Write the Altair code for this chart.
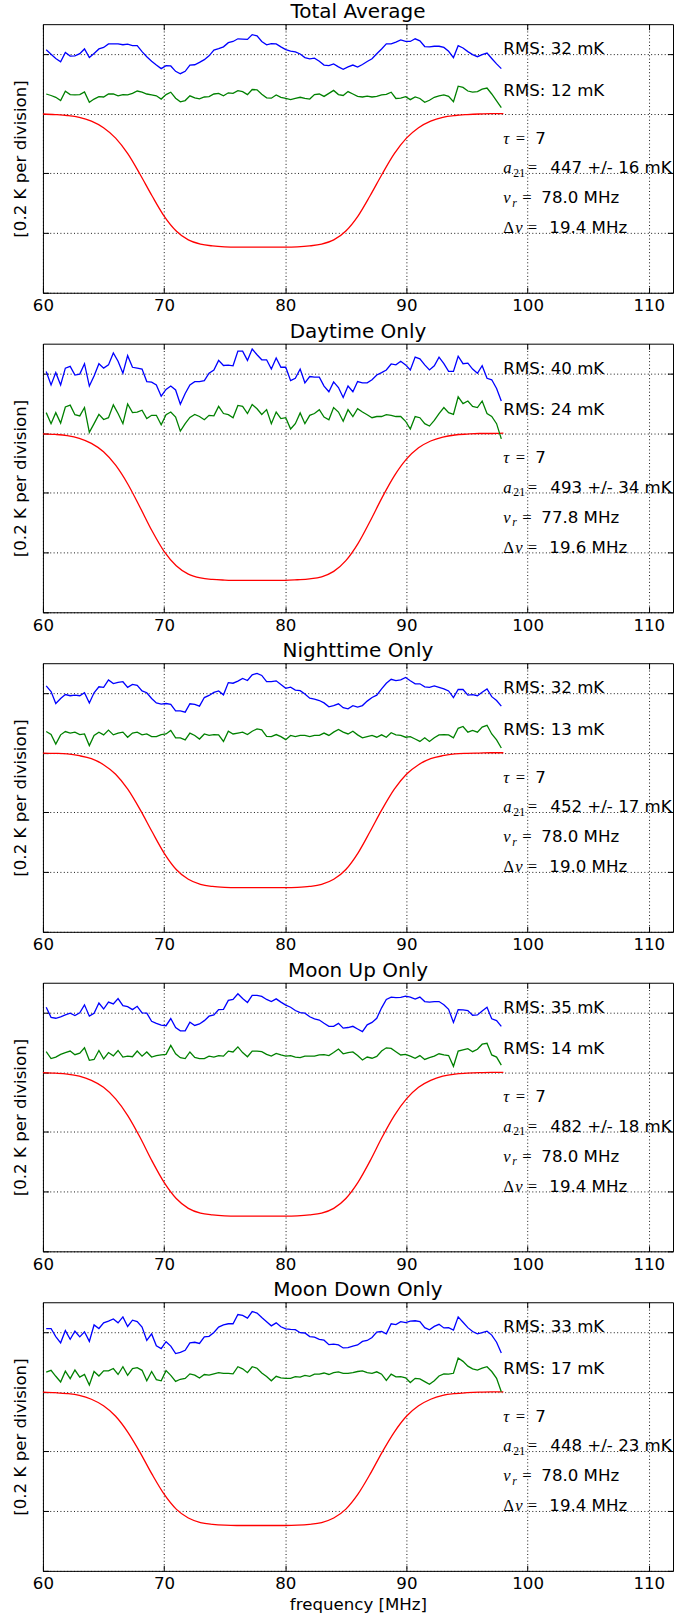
import altair as alt
import pandas as pd

# ---------------- data ----------------
freq = [60.27, 60.67, 61.06, 61.46, 61.85, 62.25, 62.64, 63.04, 63.43, 63.83,
        64.22, 64.62, 65.01, 65.41, 65.81, 66.20, 66.60, 66.99, 67.39, 67.78,
        68.18, 68.57, 68.97, 69.36, 69.76, 70.16, 70.55, 70.95, 71.34, 71.74,
        72.13, 72.53, 72.92, 73.32, 73.71, 74.11, 74.50, 74.90, 75.30, 75.69,
        76.09, 76.48, 76.88, 77.27, 77.67, 78.06, 78.46, 78.85, 79.25, 79.64,
        80.04, 80.44, 80.83, 81.23, 81.62, 82.02, 82.41, 82.81, 83.20, 83.60,
        83.99, 84.39, 84.78, 85.18, 85.58, 85.97, 86.37, 86.76, 87.16, 87.55,
        87.95, 88.34, 88.74, 89.13, 89.53, 89.93, 90.32, 90.72, 91.11, 91.51,
        91.90, 92.30, 92.69, 93.09, 93.48, 93.88, 94.27, 94.67, 95.07, 95.46,
        95.86, 96.25, 96.65, 97.04, 97.44, 97.83]

model_freq = [60, 61, 62, 63, 64, 65, 66, 67, 68, 69, 70, 71, 72, 73, 74, 75, 76, 77, 78, 79,
              80, 81, 82, 83, 84, 85, 86, 87, 88, 89, 90, 91, 92, 93, 94, 95, 96, 97, 98]

titles = ["Total Average", "Daytime Only", "Nighttime Only", "Moon Up Only", "Moon Down Only"]

blue_total = [0.214, 0.199, 0.185, 0.174, 0.205, 0.193, 0.194, 0.201, 0.217, 0.188,
              0.202, 0.217, 0.222, 0.234, 0.234, 0.234, 0.231, 0.233, 0.228, 0.228,
              0.208, 0.191, 0.176, 0.163, 0.151, 0.161, 0.160, 0.142, 0.134, 0.142,
              0.163, 0.164, 0.172, 0.181, 0.194, 0.213, 0.218, 0.224, 0.238, 0.242,
              0.251, 0.250, 0.249, 0.265, 0.261, 0.242, 0.231, 0.235, 0.234, 0.224,
              0.215, 0.210, 0.207, 0.200, 0.188, 0.184, 0.186, 0.176, 0.163, 0.161,
              0.167, 0.157, 0.149, 0.157, 0.163, 0.156, 0.165, 0.175, 0.184, 0.201,
              0.217, 0.234, 0.234, 0.240, 0.247, 0.242, 0.242, 0.251, 0.244, 0.225,
              0.224, 0.226, 0.226, 0.222, 0.209, 0.188, 0.228, 0.220, 0.208, 0.198,
              0.191, 0.198, 0.203, 0.185, 0.167, 0.151]
green_total = [0.066, 0.061, 0.055, 0.044, 0.075, 0.064, 0.063, 0.064, 0.073, 0.038,
               0.049, 0.057, 0.056, 0.066, 0.066, 0.060, 0.064, 0.063, 0.068, 0.076,
               0.072, 0.066, 0.063, 0.060, 0.049, 0.064, 0.072, 0.052, 0.040, 0.044,
               0.060, 0.053, 0.050, 0.056, 0.057, 0.066, 0.068, 0.060, 0.070, 0.068,
               0.077, 0.074, 0.064, 0.081, 0.080, 0.065, 0.053, 0.052, 0.063, 0.055,
               0.051, 0.047, 0.051, 0.055, 0.051, 0.049, 0.064, 0.066, 0.058, 0.068,
               0.078, 0.064, 0.061, 0.074, 0.066, 0.058, 0.056, 0.059, 0.056, 0.058,
               0.063, 0.065, 0.072, 0.051, 0.052, 0.057, 0.047, 0.056, 0.051, 0.038,
               0.045, 0.055, 0.060, 0.063, 0.058, 0.040, 0.092, 0.088, 0.076, 0.072,
               0.074, 0.082, 0.086, 0.066, 0.043, 0.020]
blue_day = [0.207, 0.162, 0.203, 0.162, 0.218, 0.224, 0.195, 0.198, 0.233, 0.158,
            0.192, 0.233, 0.218, 0.229, 0.269, 0.241, 0.201, 0.260, 0.221, 0.218,
            0.215, 0.173, 0.171, 0.162, 0.124, 0.147, 0.158, 0.145, 0.097, 0.133,
            0.162, 0.173, 0.173, 0.176, 0.201, 0.212, 0.244, 0.227, 0.228, 0.226,
            0.275, 0.275, 0.244, 0.282, 0.263, 0.246, 0.246, 0.215, 0.252, 0.221,
            0.221, 0.176, 0.184, 0.215, 0.169, 0.190, 0.188, 0.188, 0.158, 0.139,
            0.172, 0.153, 0.120, 0.158, 0.139, 0.173, 0.169, 0.169, 0.179, 0.195,
            0.203, 0.212, 0.232, 0.229, 0.241, 0.229, 0.212, 0.255, 0.249, 0.229,
            0.212, 0.226, 0.255, 0.233, 0.207, 0.207, 0.258, 0.233, 0.235, 0.215,
            0.201, 0.226, 0.184, 0.179, 0.150, 0.108]
green_day = [0.069, 0.032, 0.069, 0.034, 0.088, 0.094, 0.062, 0.058, 0.086, 0.003,
             0.032, 0.063, 0.046, 0.052, 0.095, 0.066, 0.032, 0.098, 0.069, 0.071,
             0.077, 0.049, 0.060, 0.060, 0.028, 0.062, 0.071, 0.054, 0.007, 0.032,
             0.053, 0.063, 0.056, 0.045, 0.060, 0.058, 0.090, 0.066, 0.062, 0.052,
             0.093, 0.090, 0.066, 0.096, 0.082, 0.063, 0.079, 0.032, 0.071, 0.049,
             0.052, 0.014, 0.032, 0.068, 0.032, 0.060, 0.066, 0.079, 0.054, 0.045,
             0.086, 0.071, 0.040, 0.079, 0.056, 0.082, 0.071, 0.062, 0.052, 0.056,
             0.056, 0.062, 0.060, 0.056, 0.056, 0.040, 0.014, 0.056, 0.052, 0.032,
             0.024, 0.043, 0.066, 0.086, 0.069, 0.063, 0.122, 0.099, 0.108, 0.090,
             0.086, 0.108, 0.066, 0.056, 0.032, -0.019]
blue_night = [0.224, 0.205, 0.165, 0.182, 0.195, 0.191, 0.193, 0.191, 0.201, 0.167,
              0.201, 0.221, 0.219, 0.244, 0.232, 0.236, 0.238, 0.219, 0.229, 0.226,
              0.207, 0.201, 0.182, 0.167, 0.163, 0.165, 0.162, 0.140, 0.140, 0.136,
              0.164, 0.162, 0.156, 0.185, 0.192, 0.202, 0.207, 0.194, 0.235, 0.233,
              0.240, 0.249, 0.242, 0.261, 0.266, 0.259, 0.238, 0.238, 0.241, 0.229,
              0.216, 0.220, 0.210, 0.208, 0.197, 0.183, 0.180, 0.175, 0.167, 0.154,
              0.158, 0.164, 0.151, 0.147, 0.158, 0.153, 0.158, 0.173, 0.185, 0.193,
              0.214, 0.233, 0.246, 0.242, 0.244, 0.252, 0.241, 0.231, 0.231, 0.221,
              0.219, 0.224, 0.219, 0.214, 0.207, 0.185, 0.212, 0.212, 0.193, 0.195,
              0.191, 0.203, 0.214, 0.188, 0.175, 0.156]
green_night = [0.071, 0.061, 0.029, 0.060, 0.071, 0.066, 0.069, 0.061, 0.063, 0.024,
               0.058, 0.069, 0.060, 0.076, 0.060, 0.066, 0.069, 0.052, 0.066, 0.069,
               0.060, 0.063, 0.054, 0.054, 0.061, 0.063, 0.075, 0.050, 0.050, 0.043,
               0.066, 0.058, 0.046, 0.063, 0.058, 0.061, 0.060, 0.038, 0.072, 0.063,
               0.066, 0.069, 0.061, 0.072, 0.080, 0.077, 0.055, 0.054, 0.061, 0.054,
               0.044, 0.058, 0.054, 0.058, 0.058, 0.054, 0.058, 0.058, 0.066, 0.058,
               0.069, 0.078, 0.069, 0.063, 0.072, 0.060, 0.050, 0.054, 0.058, 0.052,
               0.060, 0.052, 0.067, 0.060, 0.058, 0.052, 0.054, 0.046, 0.038, 0.050,
               0.038, 0.050, 0.060, 0.061, 0.060, 0.050, 0.082, 0.088, 0.069, 0.075,
               0.069, 0.086, 0.092, 0.063, 0.043, 0.016]
blue_moonup = [0.218, 0.184, 0.181, 0.186, 0.192, 0.198, 0.190, 0.199, 0.226, 0.188,
               0.198, 0.232, 0.212, 0.235, 0.229, 0.247, 0.223, 0.220, 0.210, 0.221,
               0.199, 0.198, 0.171, 0.164, 0.158, 0.156, 0.180, 0.150, 0.139, 0.139,
               0.168, 0.157, 0.162, 0.173, 0.188, 0.192, 0.210, 0.211, 0.241, 0.244,
               0.263, 0.247, 0.234, 0.258, 0.258, 0.254, 0.244, 0.237, 0.246, 0.235,
               0.225, 0.218, 0.207, 0.200, 0.198, 0.186, 0.179, 0.175, 0.164, 0.154,
               0.154, 0.164, 0.148, 0.150, 0.154, 0.145, 0.136, 0.159, 0.167, 0.181,
               0.216, 0.244, 0.252, 0.250, 0.251, 0.255, 0.252, 0.245, 0.252, 0.237,
               0.235, 0.237, 0.237, 0.226, 0.211, 0.167, 0.210, 0.209, 0.207, 0.191,
               0.192, 0.205, 0.218, 0.179, 0.173, 0.154]
green_moonup = [0.069, 0.046, 0.051, 0.060, 0.066, 0.071, 0.059, 0.064, 0.082, 0.040,
                0.043, 0.073, 0.045, 0.066, 0.055, 0.073, 0.051, 0.054, 0.052, 0.071,
                0.054, 0.068, 0.051, 0.056, 0.058, 0.060, 0.090, 0.062, 0.049, 0.046,
                0.068, 0.050, 0.046, 0.046, 0.054, 0.051, 0.056, 0.054, 0.071, 0.068,
                0.085, 0.066, 0.052, 0.071, 0.071, 0.069, 0.060, 0.054, 0.063, 0.058,
                0.054, 0.056, 0.051, 0.049, 0.054, 0.054, 0.054, 0.058, 0.059, 0.056,
                0.066, 0.078, 0.062, 0.066, 0.068, 0.056, 0.041, 0.051, 0.047, 0.053,
                0.071, 0.082, 0.080, 0.069, 0.058, 0.060, 0.054, 0.047, 0.056, 0.043,
                0.049, 0.054, 0.062, 0.058, 0.056, 0.020, 0.071, 0.075, 0.079, 0.069,
                0.077, 0.094, 0.097, 0.058, 0.051, 0.024]
blue_moondown = [0.212, 0.212, 0.185, 0.164, 0.205, 0.176, 0.203, 0.184, 0.201, 0.169,
                 0.224, 0.212, 0.231, 0.237, 0.244, 0.231, 0.251, 0.219, 0.240, 0.235,
                 0.217, 0.172, 0.194, 0.154, 0.145, 0.168, 0.153, 0.128, 0.132, 0.139,
                 0.164, 0.166, 0.162, 0.184, 0.186, 0.199, 0.217, 0.224, 0.228, 0.228,
                 0.259, 0.256, 0.247, 0.269, 0.264, 0.249, 0.235, 0.221, 0.231, 0.218,
                 0.211, 0.209, 0.208, 0.198, 0.197, 0.185, 0.183, 0.176, 0.173, 0.158,
                 0.160, 0.157, 0.147, 0.148, 0.153, 0.157, 0.169, 0.172, 0.182, 0.200,
                 0.202, 0.194, 0.228, 0.225, 0.235, 0.232, 0.237, 0.238, 0.235, 0.215,
                 0.208, 0.219, 0.226, 0.214, 0.215, 0.207, 0.251, 0.233, 0.215, 0.202,
                 0.194, 0.198, 0.203, 0.190, 0.166, 0.130]
green_moondown = [0.066, 0.072, 0.052, 0.033, 0.069, 0.044, 0.073, 0.049, 0.058, 0.023,
                  0.068, 0.053, 0.070, 0.070, 0.078, 0.058, 0.084, 0.055, 0.078, 0.081,
                  0.072, 0.037, 0.068, 0.041, 0.037, 0.071, 0.055, 0.035, 0.042, 0.045,
                  0.060, 0.056, 0.046, 0.058, 0.056, 0.060, 0.064, 0.062, 0.062, 0.060,
                  0.084, 0.077, 0.064, 0.084, 0.079, 0.063, 0.051, 0.037, 0.052, 0.047,
                  0.045, 0.045, 0.051, 0.049, 0.055, 0.052, 0.059, 0.059, 0.063, 0.058,
                  0.064, 0.067, 0.062, 0.062, 0.064, 0.068, 0.070, 0.064, 0.062, 0.067,
                  0.059, 0.038, 0.059, 0.050, 0.051, 0.047, 0.031, 0.045, 0.043, 0.034,
                  0.025, 0.037, 0.053, 0.060, 0.059, 0.062, 0.113, 0.102, 0.086, 0.077,
                  0.073, 0.079, 0.084, 0.068, 0.045, 0.000]

red_total = [-0.001, -0.003, -0.006, -0.012, -0.025, -0.047, -0.082, -0.134, -0.202, -0.275,
             -0.343, -0.393, -0.423, -0.437, -0.443, -0.446, -0.447, -0.447, -0.447, -0.447,
             -0.447, -0.446, -0.443, -0.437, -0.423, -0.393, -0.343, -0.275, -0.202, -0.134,
             -0.082, -0.047, -0.025, -0.012, -0.006, -0.003, -0.001, 0.000, 0.000]
red_day = [-0.002, -0.004, -0.008, -0.017, -0.034, -0.062, -0.107, -0.170, -0.247, -0.327,
           -0.396, -0.444, -0.472, -0.485, -0.490, -0.492, -0.493, -0.493, -0.493, -0.493,
           -0.493, -0.491, -0.488, -0.481, -0.463, -0.427, -0.370, -0.295, -0.215, -0.143,
           -0.087, -0.049, -0.026, -0.013, -0.006, -0.003, -0.001, -0.001, 0.000]
red_night = [-0.001, -0.002, -0.004, -0.010, -0.020, -0.040, -0.072, -0.122, -0.189, -0.264,
             -0.336, -0.391, -0.424, -0.441, -0.448, -0.451, -0.452, -0.452, -0.452, -0.452,
             -0.452, -0.451, -0.448, -0.441, -0.424, -0.391, -0.336, -0.264, -0.189, -0.122,
             -0.072, -0.040, -0.020, -0.010, -0.004, -0.002, -0.001, 0.000, 0.000]
red_moonup = [-0.001, -0.003, -0.006, -0.013, -0.027, -0.050, -0.089, -0.145, -0.217, -0.297,
              -0.369, -0.423, -0.456, -0.472, -0.478, -0.481, -0.482, -0.482, -0.482, -0.482,
              -0.482, -0.481, -0.478, -0.472, -0.456, -0.423, -0.369, -0.297, -0.217, -0.145,
              -0.089, -0.050, -0.027, -0.013, -0.006, -0.003, -0.001, 0.000, 0.000]
red_moondown = [-0.001, -0.003, -0.006, -0.012, -0.025, -0.047, -0.082, -0.135, -0.202, -0.276,
                -0.343, -0.393, -0.423, -0.438, -0.444, -0.447, -0.448, -0.448, -0.448, -0.448,
                -0.448, -0.447, -0.444, -0.438, -0.423, -0.393, -0.343, -0.276, -0.202, -0.135,
                -0.082, -0.047, -0.025, -0.012, -0.006, -0.003, -0.001, 0.000, 0.000]

rms_blue = [32, 40, 32, 35, 33]
rms_green = [12, 24, 13, 14, 17]
tau = [7, 7, 7, 7, 7]
a21 = [447, 493, 452, 482, 448]
a21_err = [16, 34, 17, 18, 23]
nu_r = [78.0, 77.8, 78.0, 78.0, 78.0]
dnu = [19.4, 19.6, 19.0, 19.4, 19.4]

blues = [blue_total, blue_day, blue_night, blue_moonup, blue_moondown]
greens = [green_total, green_day, green_night, green_moonup, green_moondown]
reds = [red_total, red_day, red_night, red_moonup, red_moondown]

# ---------------- styling ----------------
FONT = "DejaVu Sans"
MATH = "Liberation Serif"
FS = 16.67
W, H = 631, 269
TICK = 5.6
XT = [60, 70, 80, 90, 100, 110]
YT = [-0.6, -0.4, -0.2, 0.0, 0.2]
TEXT_X = 98.0
RMS_Y = [0.2, 0.06]
PAR_Y = [-0.1, -0.2, -0.3, -0.4]
GRID = dict(grid=True, gridColor="black", gridDash=[1, 2.4], gridWidth=1, gridOpacity=0.9)

xs = alt.Scale(domain=[60, 112], nice=False, zero=False)
ys = alt.Scale(domain=[-0.6, 0.3], nice=False, zero=False)


def text_layer(rows_y, labels, dx=0, dy=0, font=FONT, style="normal", size=FS):
    df = pd.DataFrame({"freq": [TEXT_X] * len(rows_y), "value": rows_y, "label": labels})
    return alt.Chart(df).mark_text(
        align="left", baseline="alphabetic", font=font, fontStyle=style,
        fontSize=size, color="black", dx=dx, dy=dy, clip=True
    ).encode(
        x=alt.X("freq:Q", scale=xs, axis=None),
        y=alt.Y("value:Q", scale=ys, axis=None),
        text="label:N",
    )


def panel(i, last):
    lines = pd.DataFrame({
        "freq": freq + freq,
        "value": blues[i] + greens[i],
        "series": ["fit residual"] * len(freq) + ["model residual"] * len(freq),
    })
    model = pd.DataFrame({"freq": model_freq, "value": reds[i]})

    x_bottom = alt.Axis(
        orient="bottom", values=XT, offset=-TICK, tickSize=TICK, tickColor="black",
        tickWidth=1, domain=False, labelFont=FONT, labelFontSize=FS, labelColor="black",
        labelPadding=5, labelFlush=False, labelOverlap=False, minExtent=0,
        titleFont=FONT, titleFontSize=FS, titleFontWeight="normal",
        titleColor="black", titlePadding=4, **GRID,
    )
    y_left = alt.Axis(
        orient="left", values=YT, offset=-TICK, tickSize=TICK, tickColor="black",
        tickWidth=1, domain=False, labels=False, titleFont=FONT, titleFontSize=FS,
        titleFontWeight="normal", titleColor="black", titlePadding=13, **GRID,
    )
    x_top = alt.Axis(orient="top", values=XT, offset=-TICK, tickSize=TICK,
                     tickColor="black", tickWidth=1, domain=False, grid=False,
                     labels=False, minExtent=0)
    y_right = alt.Axis(orient="right", values=YT, offset=-TICK, tickSize=TICK,
                       tickColor="black", tickWidth=1, domain=False, grid=False,
                       labels=False, minExtent=0)

    red = alt.Chart(model).mark_line(color="#ff0000", strokeWidth=1.3,
                                     interpolate="monotone").encode(
        x=alt.X("freq:Q", scale=xs, axis=x_bottom,
                title="frequency [MHz]" if last else None),
        y=alt.Y("value:Q", scale=ys, axis=y_left, title="[0.2 K per division]"),
    )
    noise = alt.Chart(lines).mark_line(strokeWidth=1.3).encode(
        x=alt.X("freq:Q", scale=xs, axis=x_top, title=None),
        y=alt.Y("value:Q", scale=ys, axis=y_right, title=None),
        color=alt.Color("series:N", legend=None,
                        scale=alt.Scale(domain=["fit residual", "model residual"],
                                        range=["#0000ff", "#008000"])),
        detail="series:N",
    )

    layers = [
        red,
        noise,
        text_layer(RMS_Y, [f"RMS: {rms_blue[i]} mK", f"RMS: {rms_green[i]} mK"]),
        # math symbols
        text_layer(PAR_Y[:3], ["τ", "a", "ν"], font=MATH, style="italic"),
        text_layer(PAR_Y[3:], ["Δ"], font=MATH),
        text_layer(PAR_Y[3:], ["ν"], dx=12, font=MATH, style="italic"),
        text_layer([PAR_Y[1]], ["21"], dx=10, dy=3.5, font=MATH, size=11.7),
        text_layer([PAR_Y[2]], ["r"], dx=9, dy=3.5, font=MATH, style="italic", size=11.7),
        text_layer(PAR_Y[:1], ["="], dx=12.5, font=MATH),
        text_layer([PAR_Y[2]], ["="], dx=19, font=MATH),
        text_layer([PAR_Y[1], PAR_Y[3]], ["=", "="], dx=24.5, font=MATH),
        # numeric values
        text_layer([PAR_Y[0]], [f"{tau[i]}"], dx=32),
        text_layer([PAR_Y[1]], [f"{a21[i]} +/- {a21_err[i]} mK"], dx=47),
        text_layer([PAR_Y[2]], [f"{nu_r[i]:.1f} MHz"], dx=38),
        text_layer([PAR_Y[3]], [f"{dnu[i]:.1f} MHz"], dx=46),
    ]
    return alt.layer(*layers).properties(
        width=W, height=H,
        title=alt.TitleParams(titles[i], font=FONT, fontSize=20, fontWeight="normal",
                              color="black", anchor="middle", frame="group",
                              baseline="alphabetic", offset=-14.5),
    )


chart = alt.vconcat(
    *[panel(i, i == len(titles) - 1) for i in range(len(titles))],
    spacing=51, bounds="flush",
).properties(
    padding={"left": 12, "top": 0, "right": 0, "bottom": 0},
).configure_view(stroke="black", strokeWidth=1)

chart.save("out.html", embed_options={"renderer": "svg", "actions": False})
